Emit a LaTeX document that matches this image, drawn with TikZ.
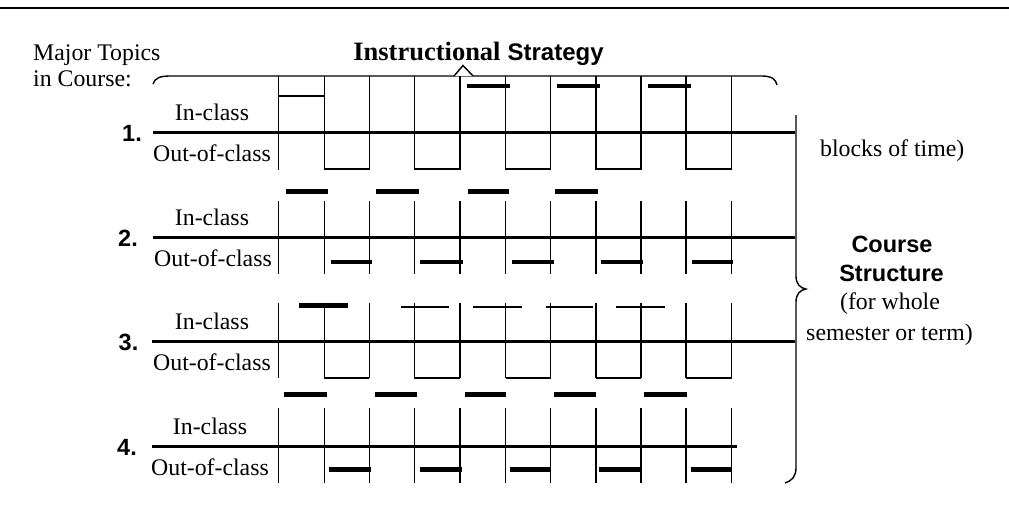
\documentclass[tikz,border=0pt]{standalone}
\usepackage{fontspec}
\setmainfont{Liberation Serif}
\setsansfont{Liberation Sans}
\begin{document}
\begin{tikzpicture}[x=1pt,y=-1pt,
  mainline/.style={line width=3pt},
  tick/.style={line width=1.2pt},
  bar/.style={line width=4.5pt},
  thinbar/.style={line width=1.8pt},
  bracepath/.style={line width=1.4pt},
  lbl/.style={font=\fontsize{23.8}{26}\selectfont, inner sep=0pt, anchor=base},
  num/.style={font=\sffamily\bfseries\fontsize{23.5}{26}\selectfont, inner sep=0pt, anchor=base east},
  sidehead/.style={font=\sffamily\bfseries\fontsize{23.5}{26}\selectfont, inner sep=0pt, anchor=base}]
\useasboundingbox (0,0) rectangle (1009,514);
\def\xs{278.3,324.3,369.3,414.3,460,505.7,550.7,596,641,686,731.7}
% top rule
\draw[line width=2pt] (0,8) -- (1009,8);
% header texts
\node[lbl, anchor=base west] (major) at (33,60) {Major Topics};
\node[lbl, anchor=base west] (incourse) at (33,86.7) {in Course:};
\node[inner sep=0pt, anchor=base] (title) at (478.5,60) {{\fontsize{26.5}{28}\selectfont\bfseries Instructional}\hspace{7pt}{\sffamily\bfseries\fontsize{24}{26}\selectfont Strategy}};
% top brace
\draw[bracepath] (153,84) .. controls (155,78) and (160,76) .. (170,76) -- (762,76) .. controls (771,76) and (776,79) .. (777,85);
\draw[bracepath, fill=white] (454,76) -- (463,65.5) -- (473,76);
% right brace
\draw[bracepath] (796,115) -- (796,276) .. controls (796,284) and (800,288) .. (806,289) .. controls (800,290) and (796,294) .. (796,302) -- (796,468) .. controls (796,476) and (792,481) .. (785,483);
\node[lbl, anchor=base west] (blocks) at (820,156.7) {blocks of time)};
\node[sidehead] (course) at (892,252.7) {Course};
\node[sidehead] (structure) at (891.5,281) {Structure};
\node[lbl] (forwhole) at (890,309.3) {(for whole};
\node[lbl] (semester) at (889.5,340) {semester or term)};
% ---------- row 1 ----------
\foreach \x in \xs {\draw[tick] (\x,76) -- (\x,170);}
\draw[mainline] (153,132.7) -- (795,132.7);
\node[num] (n1) at (142,141.7) {1.};
\node[lbl] (in1) at (212,120.7) {In-class};
\node[lbl] (out1) at (212,161.7) {Out-of-class};
\draw[thinbar] (278.3,96) -- (324.3,96);
\foreach \a/\b in {467/510,557/600,648/691} {\draw[bar] (\a,86) -- (\b,86);}
\foreach \a/\b in {324.3/369.3,414.3/460,505.7/550.7,596/641,686/731.7} {\draw[thinbar] (\a,169) -- (\b,169);}
% ---------- row 2 ----------
\foreach \x in \xs {\draw[tick] (\x,201) -- (\x,274);}
\draw[mainline] (153,237.3) -- (795,237.3);
\node[num] (n2) at (138,246.3) {2.};
\node[lbl] (in2) at (212,225.3) {In-class};
\node[lbl] (out2) at (213,266.3) {Out-of-class};
\foreach \a/\b in {286/328,376/419,468/509,555/598} {\draw[bar] (\a,191.7) -- (\b,191.7);}
\foreach \a/\b in {331/372,420/463,512/554,601/643,692/733} {\draw[bar] (\a,262) -- (\b,262);}
% ---------- row 3 ----------
\foreach \x in \xs {\draw[tick] (\x,303) -- (\x,378);}
\draw[mainline] (152,341.7) -- (795,341.7);
\node[num] (n3) at (138.5,350.7) {3.};
\node[lbl] (in3) at (212,329.7) {In-class};
\node[lbl] (out3) at (212,370.7) {Out-of-class};
\draw[line width=5.5pt] (299,305.7) -- (348,305.7);
\foreach \a/\b in {401/449,473/522,546/593,616/665} {\draw[thinbar] (\a,306.7) -- (\b,306.7);}
\foreach \a/\b in {324.3/369.3,414.3/460,505.7/550.7,596/641,686/731.7} {\draw[thinbar] (\a,377.7) -- (\b,377.7);}
% ---------- row 4 ----------
\foreach \x in \xs {\draw[tick] (\x,408) -- (\x,483);}
\draw[mainline] (152,446) -- (737,446);
\node[num] (n4) at (137,455) {4.};
\node[lbl] (in4) at (210,434) {In-class};
\node[lbl] (out4) at (210,475) {Out-of-class};
\foreach \a/\b in {284/327,375/417,465/506,554/596,644/687} {\draw[bar] (\a,394.3) -- (\b,394.3);}
\foreach \a/\b in {329/371,420/462,510/551,599/642,691/732} {\draw[bar] (\a,469.3) -- (\b,469.3);}
\end{tikzpicture}
\end{document}
